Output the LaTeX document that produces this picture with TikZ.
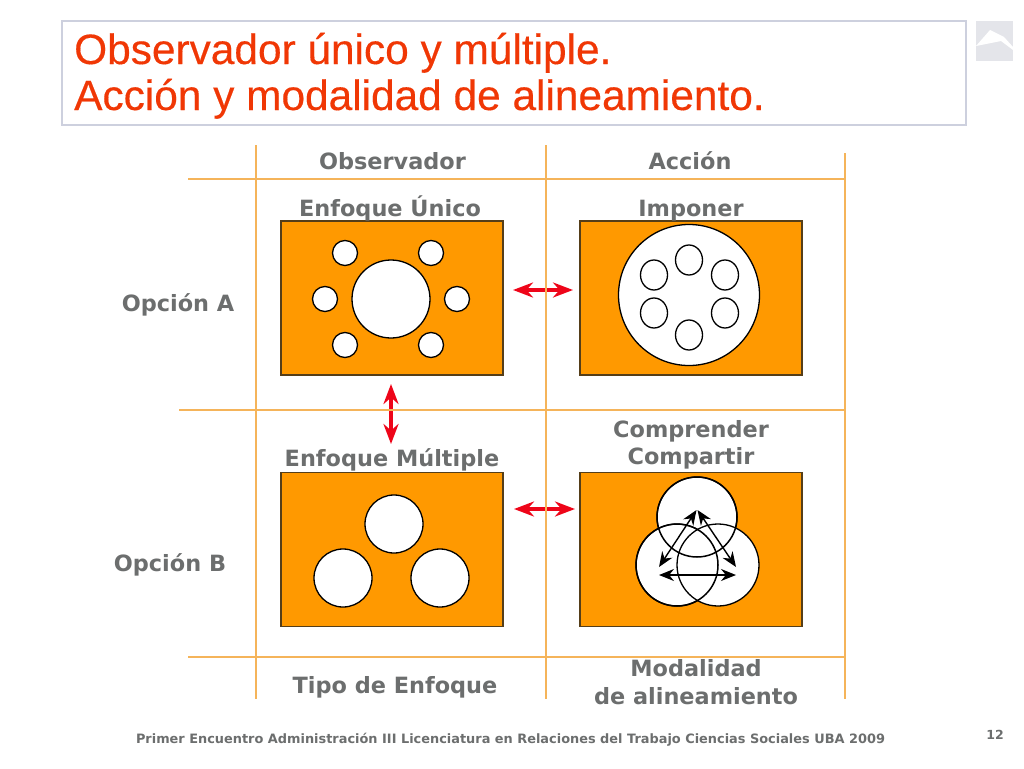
\documentclass[tikz,border=0pt]{standalone}
\usepackage{fontspec}
\setmainfont{DejaVu Sans}
\newfontfamily\titlefont[FakeBold=0.35]{Liberation Sans}
\definecolor{boxorange}{RGB}{255,153,0}
\definecolor{panelbrown}{RGB}{85,62,25}
\definecolor{gridorange}{RGB}{245,180,90}
\definecolor{labelgray}{RGB}{108,110,110}
\definecolor{titlered}{RGB}{240,55,5}
\definecolor{arrowred}{RGB}{238,5,25}
\definecolor{framegray}{RGB}{205,208,222}
\definecolor{logogray}{RGB}{228,229,234}
\usetikzlibrary{arrows.meta,shapes.geometric}
\tikzset{
  panel/.style={draw=panelbrown,fill=boxorange,line width=1.3pt,minimum width=222pt,minimum height=154pt,inner sep=0pt},
  disc/.style={circle,draw=black,fill=white,line width=1.3pt,minimum size=#1,inner sep=0pt},
  oval/.style={ellipse,draw=black,line width=1.3pt,minimum width=27pt,minimum height=30pt,inner sep=0pt},
  lens/.style={circle,draw=black,line width=1.5pt,minimum size=#1,inner sep=0pt},
  head/.style={anchor=base,inner sep=0pt,font=\bfseries\fontsize{22.4}{26}\selectfont,text=labelgray},
  gridline/.style={gridorange,line width=1.3pt},
  redarrow/.style={{Stealth[length=20pt,width=15pt]}-{Stealth[length=20pt,width=15pt]},arrowred,line width=3.6pt},
  blackarrow/.style={{Stealth[length=15pt,width=12pt]}-{Stealth[length=15pt,width=12pt]},black,line width=1.4pt},
}
\begin{document}
\begin{tikzpicture}[x=1pt,y=-1pt]
\useasboundingbox (0,0) rectangle (1024,768);
% title
\node[draw=framegray,line width=1.5pt,minimum width=904pt,minimum height=104pt,inner sep=0pt] (frame) at (514,73) {};
\node[anchor=base west,inner sep=0pt,text=titlered,font=\titlefont\fontsize{42.4}{48}\selectfont] (titleA) at (74,64) {Observador único y múltiple.};
\node[anchor=base west,inner sep=0pt,text=titlered,font=\titlefont\fontsize{42.4}{48}\selectfont] (titleB) at (74,110) {Acción y modalidad de alineamiento.};
\fill[logogray] (976,21) rectangle (1013,61);
\fill[white] (976,46) -- (990,30) -- (1004,37) -- (1013,47) -- (1013,50) -- (1001,41) -- cycle;
% panels
\node[panel] (unico) at (392,298) {};
\node[panel] (imponer) at (691,298) {};
\node[panel] (multiple) at (392,549.5) {};
\node[panel] (compartir) at (691,549.5) {};
% enfoque unico
\node[disc=78pt] (centro) at (391,299) {};
\foreach \name/\px/\py in {a/345/253,b/431/253,c/325/299,d/457/299,e/345/345,f/431/345}
  \node[disc=25pt] (obs\name) at (\px,\py) {};
% imponer
\node[disc=141pt] (grande) at (689,295) {};
\foreach \name/\px/\py in {a/689/260,b/654/275,c/725/275,d/654/313,e/725/313,f/689/335}
  \node[oval] (acc\name) at (\px,\py) {};
% enfoque multiple
\node[disc=58pt] (multA) at (394,524) {};
\node[disc=58pt] (multB) at (343,578) {};
\node[disc=58pt] (multC) at (440,578) {};
% comprender
\node[disc=80pt] (vennA) at (697,517) {};
\node[disc=82pt] (vennB) at (677,565) {};
\node[disc=82pt] (vennC) at (718,565) {};
\node[lens=80pt] (vennD) at (697,517) {};
\node[lens=82pt] (vennE) at (677,565) {};
\coordinate (apexA) at (696.5,510);
\coordinate (apexB) at (697.5,510);
\coordinate (sideA) at (659,567);
\coordinate (sideB) at (736,567);
\coordinate (baseA) at (659,575);
\coordinate (baseB) at (736,575);
\draw[blackarrow] (apexA) -- (sideA);
\draw[blackarrow] (apexB) -- (sideB);
\draw[blackarrow] (baseA) -- (baseB);
% red arrows
\coordinate (rA) at (513,290);
\coordinate (rB) at (573,290);
\coordinate (rC) at (391,384);
\coordinate (rD) at (391,444);
\coordinate (rE) at (514,509);
\coordinate (rF) at (575,509);
\draw[redarrow] (rA) -- (rB);
\draw[redarrow] (rC) -- (rD);
\draw[redarrow] (rE) -- (rF);
% grid
\coordinate (vA) at (256,145);
\coordinate (vB) at (256,699);
\coordinate (vC) at (546,145);
\coordinate (vD) at (546,699);
\coordinate (vE) at (845,153);
\coordinate (vF) at (845,699);
\coordinate (hA) at (188,179);
\coordinate (hB) at (845,179);
\coordinate (hC) at (179,410);
\coordinate (hD) at (845,410);
\coordinate (hE) at (188,657);
\coordinate (hF) at (845,657);
\draw[gridline] (vA) -- (vB);
\draw[gridline] (vC) -- (vD);
\draw[gridline] (vE) -- (vF);
\draw[gridline] (hA) -- (hB);
\draw[gridline] (hC) -- (hD);
\draw[gridline] (hE) -- (hF);
% labels
\node[head] (observador) at (392.5,169.5) {Observador};
\node[head] (accion) at (690,169.5) {Acción};
\node[head] (enfoqueA) at (390,216) {Enfoque Único};
\node[head] (imponerT) at (691,216) {Imponer};
\node[head] (opcionA) at (178,311) {Opción A};
\node[head] (opcionB) at (170,571) {Opción B};
\node[head] (enfoqueB) at (392,466) {Enfoque Múltiple};
\node[head] (comprender) at (691,437.5) {Comprender};
\node[head] (compartirT) at (691,464) {Compartir};
\node[head] (tipo) at (395,693.5) {Tipo de Enfoque};
\node[head] (modalidad) at (696,676) {Modalidad};
\node[head] (alineamiento) at (696,704) {de alineamiento};
% footer
\node[anchor=base,inner sep=0pt,text=labelgray,font=\bfseries\fontsize{12.9}{16}\selectfont] (footer) at (510.5,743) {Primer Encuentro Administración III Licenciatura en Relaciones del Trabajo Ciencias Sociales UBA 2009};
\node[anchor=base,inner sep=0pt,text=labelgray,font=\bfseries\fontsize{12.5}{15}\selectfont] (pagina) at (995,739) {12};
\end{tikzpicture}
\end{document}
